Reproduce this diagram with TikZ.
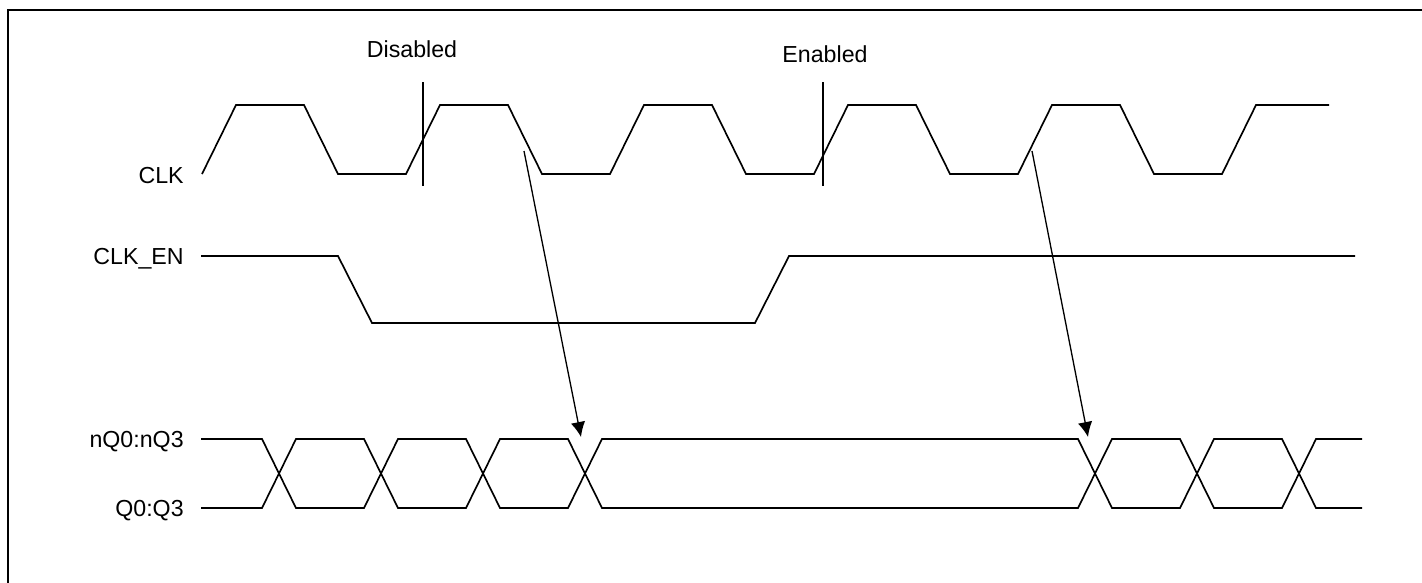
\documentclass[tikz,border=0pt]{standalone}
\usepackage{fontspec}
\setmainfont{Liberation Sans}
\usepackage{tikz}
\usetikzlibrary{arrows}
\usetikzlibrary{arrows.meta}
\begin{document}
\begin{tikzpicture}[x=0.02cm,y=-0.02cm]
\tikzset{>={Latex[width=2.9mm,length=3mm]}}
\tikzstyle{wave} =[line width=0.95pt, line join=miter]
\tikzstyle{siglabel} =[anchor=base east, inner sep=0pt, font=\fontsize{13.2}{15}\selectfont]
\tikzstyle{marklabel} =[anchor=base, inner sep=0pt, font=\fontsize{13.2}{15}\selectfont]
\useasboundingbox (0,0) rectangle (1422,582);

% frame
\draw[line width=1.3pt] (8,620) -- (8,10) -- (1440,10);

% signal names
\node[siglabel](clk) at (184,183){CLK};
\node[siglabel](clken) at (184,264){CLK\_EN};
\node[siglabel](nq) at (184,447){nQ0:nQ3};
\node[siglabel](q) at (184,516){Q0:Q3};

% clock
\draw[wave] (202,174) \foreach \k in {0,...,4}{ -- ++(34,-69) -- ++(68,0) -- ++(34,69) -- ++(68,0)} -- ++(34,-69) -- (1329,105);

% enable
\draw[wave] (201,256) -- (338,256) -- (372,323) -- (755,323) -- (789,256) -- (1355,256);

% outputs
\foreach \a/\b in {439/508,508/439}
  \draw[wave] (201,\a) -- (262,\a) -- (296,\b) -- (364,\b) -- (398,\a) -- (466,\a) -- (500,\b) -- (568,\b) -- (602,\a) -- (1078,\a) -- (1112,\b) -- (1180,\b) -- (1214,\a) -- (1282,\a) -- (1316,\b) -- (1362,\b);

% markers
\node[marklabel](dis) at (412,57){Disabled};
\node[marklabel](en) at (825,62){Enabled};
\draw[line width=0.65pt] (423,82) -- (423,186);
\draw[line width=0.65pt] (823,82) -- (823,186);

\coordinate (fall1) at (524,151);
\coordinate (rise5) at (1032,151);
\coordinate (stop1) at (581,437);
\coordinate (stop2) at (1088,437);

\draw [->,line width=0.75pt] (fall1) to (stop1);
\draw [->,line width=0.75pt] (rise5) to (stop2);
\end{tikzpicture}
\end{document}
